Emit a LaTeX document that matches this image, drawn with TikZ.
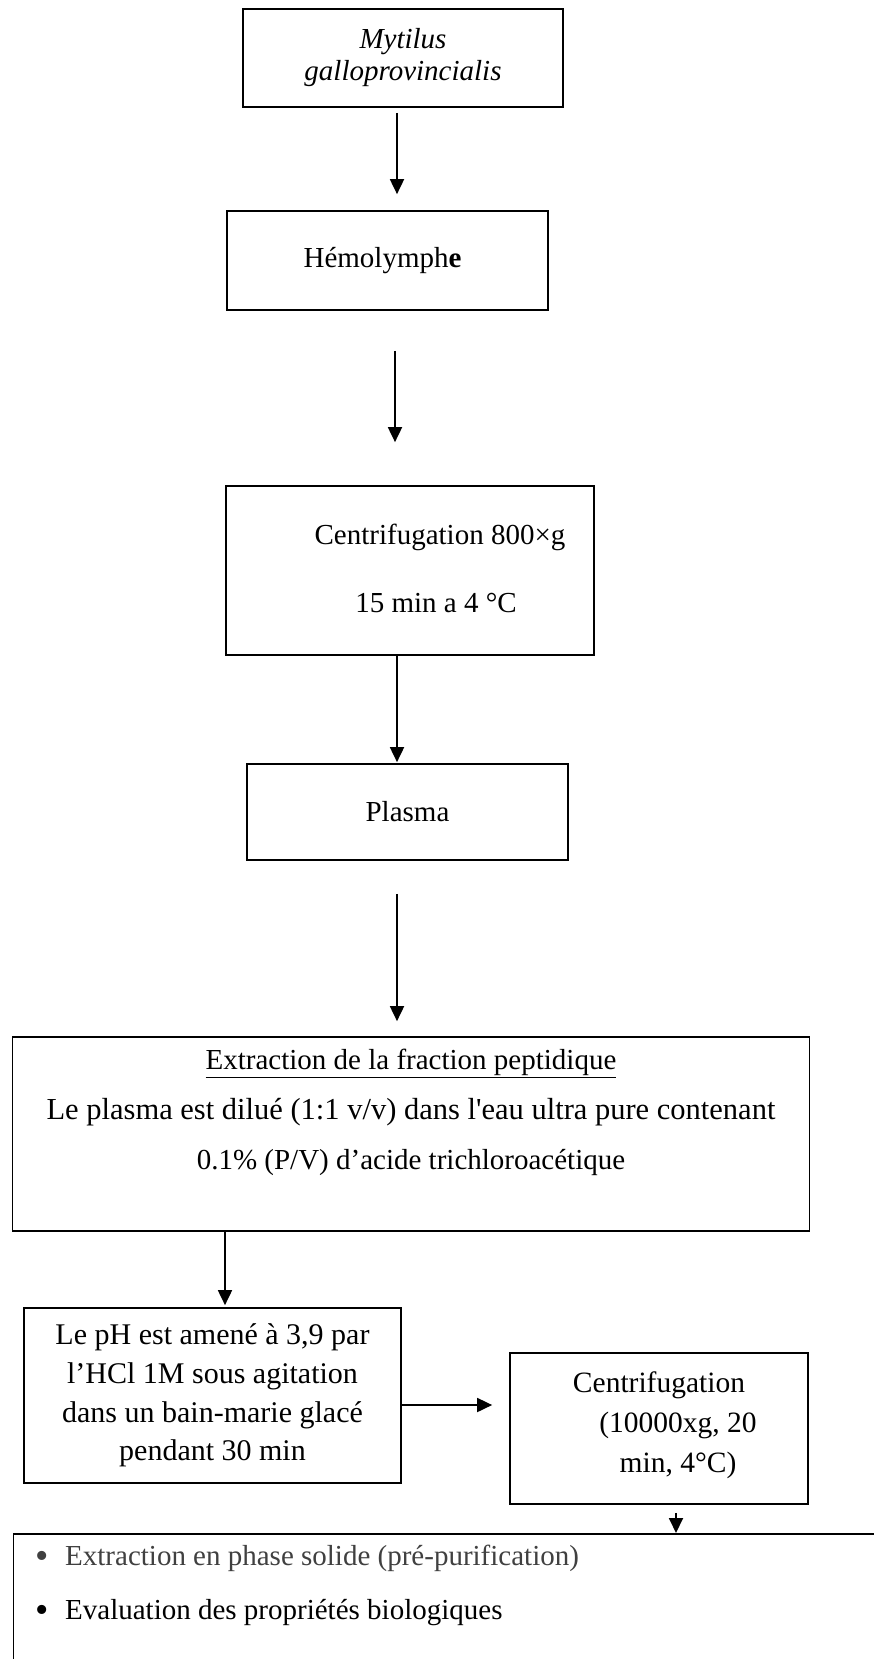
\documentclass[tikz,border=0pt]{standalone}
\usepackage{fontspec}
\newfontfamily\tnr{Liberation Serif}
\usetikzlibrary{arrows.meta}
\newcommand{\bigbul}{\makebox[30pt][l]{\raisebox{-3pt}{\fontsize{38}{34}\selectfont•}}}
\begin{document}
\begin{tikzpicture}[x=1pt,y=-1pt,
  box/.style={draw, line width=1.7pt, rectangle, inner sep=0pt, align=center,
              font=\tnr\fontsize{29}{38}\selectfont},
  arr/.style={line width=1.8pt, -{Triangle[length=15pt,width=14pt]}},
  bullet/.style={anchor=west, inner sep=0pt, font=\tnr\fontsize{29}{34}\selectfont}]
\useasboundingbox (0,0) rectangle (874,1659);
\clip (0,0) rectangle (874,1659);

% boxes
\node[box, minimum width=320pt, minimum height=98pt,
      font=\tnr\itshape\fontsize{29}{32}\selectfont] (myt) at (403,58)
      {Mytilus\\galloprovincialis};
\node[box, minimum width=321pt, minimum height=99pt] (hem) at (387.5,260.5)
      {\hspace*{-10pt}Hémolymph\textbf{e}};
\node[box, minimum width=368pt, minimum height=169pt,
      font=\tnr\fontsize{29}{68}\selectfont] (cen1) at (410,570.5)
      {\hspace*{60pt}Centrifugation 800×g\\\hspace*{52pt}15 min a 4 °C\rule[-4pt]{0pt}{1pt}};
\node[box, minimum width=321pt, minimum height=96pt] (pla) at (407.5,812) {Plasma};
\node[box, minimum width=797pt, minimum height=194pt,
      font=\tnr\fontsize{29}{50}\selectfont] (ext) at (411,1134)
      {\underline{Extraction de la fraction peptidique}\\
       {\fontsize{30.5}{50}\selectfont Le plasma est dilué (1:1 v/v) dans l'eau ultra pure contenant}\\
       0.1\% (P/V) d’acide trichloroacétique\\\mbox{}};
\node[box, minimum width=377pt, minimum height=175pt,
      font=\tnr\fontsize{30}{38.7}\selectfont] (ph) at (212.5,1395.5)
      {Le pH est amené à 3,9 par\\l’HCl 1M sous agitation\\dans un bain-marie glacé\\pendant 30 min};
\node[box, minimum width=298pt, minimum height=151pt,
      font=\tnr\fontsize{29.5}{40}\selectfont] (cen2) at (659,1428.5)
      {Centrifugation\\\hspace*{38pt}(10000xg, 20\\\hspace*{38pt}min, 4°C)\rule[-12pt]{0pt}{1pt}};
\node[box, anchor=north west, minimum width=900pt, minimum height=200pt] (fin) at (12.7,1533) {};
\node[bullet, text=black!75] (b1) at (35,1558)
      {\bigbul Extraction en phase solide (pré-purification)};
\node[bullet] (b2) at (35,1613)
      {\bigbul Evaluation des propriétés biologiques};

% connector guides
\coordinate (cxa) at (397,0);
\coordinate (cxb) at (395,0);
\coordinate (cxc) at (225,0);
\coordinate (cxd) at (676,0);
\coordinate (cy6) at (0,1405);

% connectors
\draw[arr] ([yshift=-5pt]myt.south -| cxa) -- ([yshift=16pt]hem.north -| cxa);
\draw[arr] ([yshift=-40pt]hem.south -| cxb) -- ([yshift=43pt]cen1.north -| cxb);
\draw[arr] (cen1.south -| cxa) -- ([yshift=1pt]pla.north -| cxa);
\draw[arr] ([yshift=-33pt]pla.south -| cxa) -- ([yshift=15pt]ext.north -| cxa);
\draw[arr] (ext.south -| cxc) -- ([yshift=2pt]ph.north -| cxc);
\draw[arr] (ph.east |- cy6) -- ([xshift=-17pt]cen2.west |- cy6);
\draw[arr] ([yshift=-8pt]cen2.south -| cxd) -- (fin.north -| cxd);
\end{tikzpicture}
\end{document}
